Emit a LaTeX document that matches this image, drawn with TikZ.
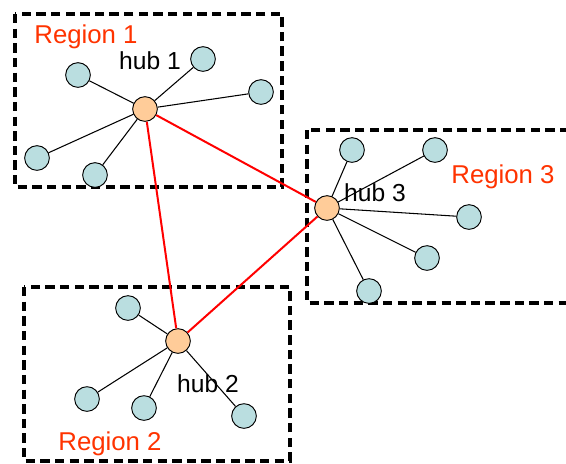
\documentclass[tikz,border=0pt]{standalone}
\usepackage{fontspec}
\setmainfont{Liberation Sans}
\usetikzlibrary{calc}
\definecolor{hubfill}{RGB}{255,204,153}
\definecolor{leaffill}{RGB}{186,222,224}
\definecolor{regred}{RGB}{255,51,0}
\tikzset{
  hub/.style={circle, draw, fill=hubfill, minimum size=0.74cm, inner sep=0pt, line width=0.8pt},
  leaf/.style={circle, draw, fill=leaffill, minimum size=0.74cm, inner sep=0pt, line width=0.8pt},
  regbox/.style={draw, line width=3pt, dash pattern=on 8pt off 4.5pt},
  regname/.style={text=regred, font=\fontsize{22}{26}\selectfont},
  hubname/.style={font=\fontsize{21}{25}\selectfont},
  trunk/.style={draw, red, line width=1.7pt},
  spoke/.style={draw, line width=0.9pt}
  }

\begin{document}
\begin{tikzpicture}[x=0.03cm, y=-0.03cm]
	\useasboundingbox (0,0) rectangle (566,463);
	% Frames
	\draw [regbox] (15,14) rectangle (282,187);
	\draw [regbox] (307,130) rectangle (580,303);
	\draw [regbox] (24,287) rectangle (290,461);

	% Labels
	\node[regname] (reg1) at (86,37) {Region 1};
	\node[regname] (reg2) at (110,444) {Region 2};
	\node[regname] (reg3) at (503,177) {Region 3};
	\node[hubname] (lab1) at (150,61) {hub 1};
	\node[hubname] (lab2) at (208,384) {hub 2};
	\node[hubname] (lab3) at (375,193) {hub 3};

	% Nodes
	\node[hub] (hub1) at (145,109) {};
	\node[hub] (hub2) at (178,341) {};
	\node[hub] (hub3) at (327,208) {};
	\node[leaf] (a1) at (78,75) {};
	\node[leaf] (a2) at (203,59) {};
	\node[leaf] (a3) at (261,92) {};
	\node[leaf] (a4) at (37,158) {};
	\node[leaf] (a5) at (95,175) {};
	\node[leaf] (b1) at (128,308) {};
	\node[leaf] (b2) at (87,399) {};
	\node[leaf] (b3) at (144,408) {};
	\node[leaf] (b4) at (244,416) {};
	\node[leaf] (c1) at (352,150) {};
	\node[leaf] (c2) at (435,150) {};
	\node[leaf] (c3) at (469,217) {};
	\node[leaf] (c4) at (427,258) {};
	\node[leaf] (c5) at (369,291) {};

	% Red links
	\draw [trunk] (hub1) -- (hub2);
	\draw [trunk] (hub1) -- (hub3);
	\draw [trunk] (hub2) -- (hub3);
	% Spokes
	\draw [spoke] (hub1) -- (a1);
	\draw [spoke] (hub1) -- (a2);
	\draw [spoke] (hub1) -- (a3);
	\draw [spoke] (hub1) -- (a4);
	\draw [spoke] (hub1) -- (a5);
	\draw [spoke] (hub2) -- (b1);
	\draw [spoke] (hub2) -- (b2);
	\draw [spoke] (hub2) -- (b3);
	\draw [spoke] (hub2) -- (b4);
	\draw [spoke] (hub3) -- (c1);
	\draw [spoke] (hub3) -- (c2);
	\draw [spoke] (hub3) -- (c3);
	\draw [spoke] (hub3) -- (c4);
	\draw [spoke] (hub3) -- (c5);
\end{tikzpicture}
\end{document}
